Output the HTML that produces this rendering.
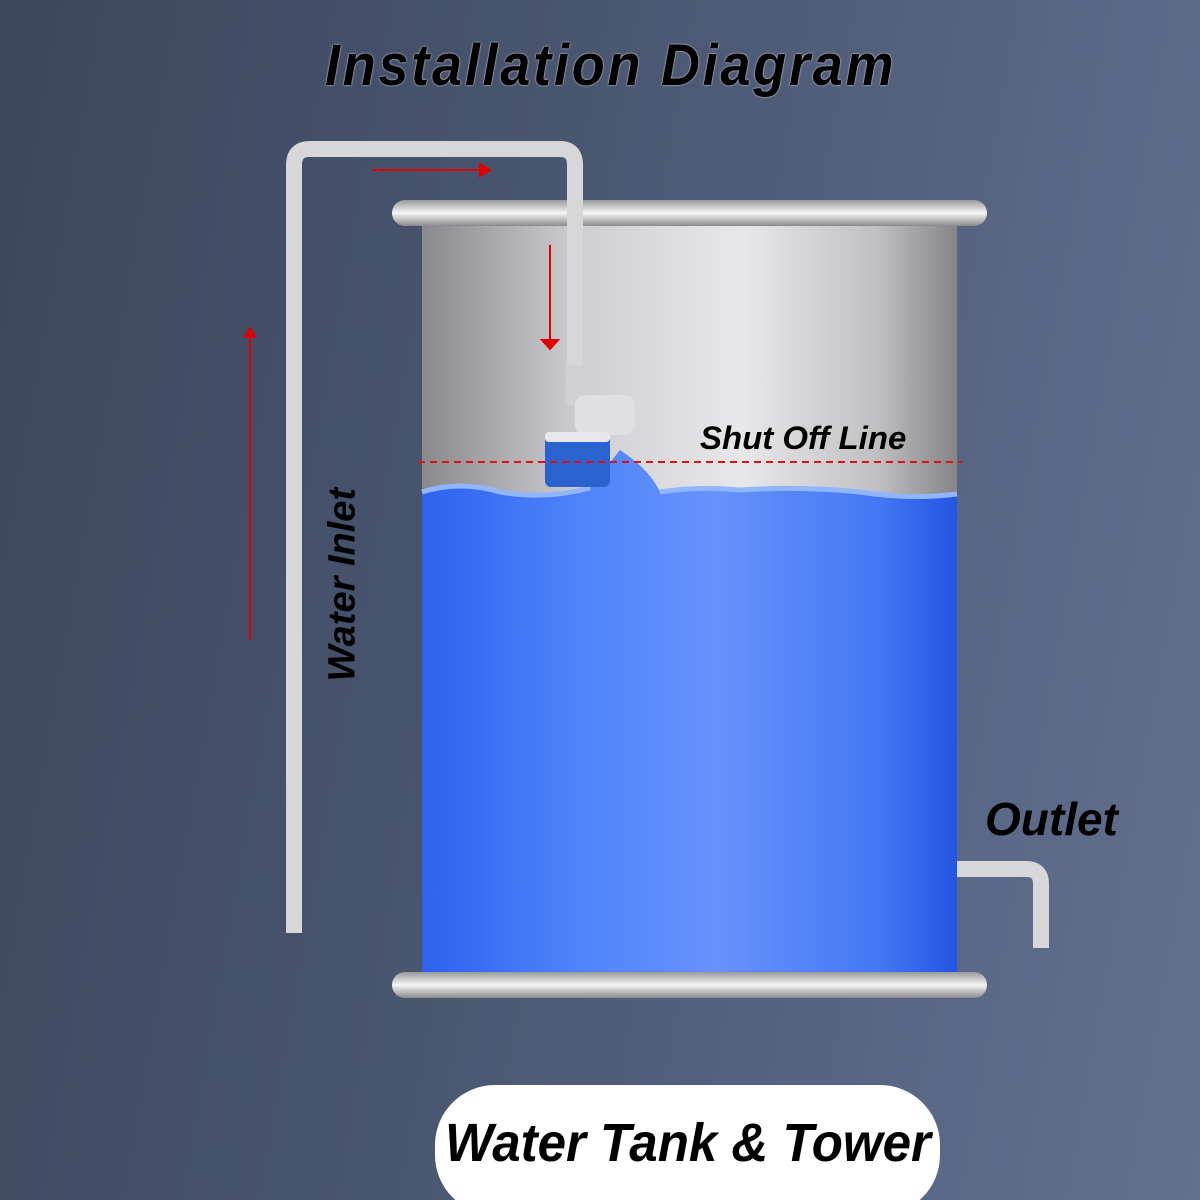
<!DOCTYPE html>
<html><head><style>
html,body{margin:0;padding:0}
body{width:1200px;height:1200px;overflow:hidden;position:relative;
background:linear-gradient(100deg,#3c475e 0%,#48556f 40%,#5a6887 80%,#63718e 100%);
font-family:"Liberation Sans",sans-serif}
.t{position:absolute;font-weight:bold;font-style:italic;color:#000;white-space:nowrap;transform-origin:left top}
</style></head><body>
<svg width="1200" height="1200" style="position:absolute;left:0;top:0">
<defs>
<linearGradient id="metal" x1="0" x2="1" y1="0" y2="0">
<stop offset="0" stop-color="#8a8a8c"/><stop offset="0.3" stop-color="#cfcfd1"/>
<stop offset="0.6" stop-color="#e8e8ea"/><stop offset="0.85" stop-color="#c0c0c2"/><stop offset="1" stop-color="#858587"/></linearGradient>
<linearGradient id="rim" x1="0" x2="0" y1="0" y2="1">
<stop offset="0" stop-color="#9a9a9c"/><stop offset="0.5" stop-color="#f4f4f4"/><stop offset="1" stop-color="#8a8a8c"/></linearGradient>
<linearGradient id="water" x1="0" x2="1" y1="0" y2="0">
<stop offset="0" stop-color="#2d62ee"/><stop offset="0.3" stop-color="#4f84fa"/>
<stop offset="0.55" stop-color="#6892fb"/><stop offset="0.85" stop-color="#4478f4"/><stop offset="1" stop-color="#2455e4"/></linearGradient>
</defs>
<rect x="422" y="222" width="535" height="752" fill="url(#metal)"/>
<path d="M422 492 Q460 480 500 492 Q545 500 590 488 L620 450 Q650 470 660 492 Q700 486 740 490 Q800 486 860 492 Q910 500 957 494 L957 974 L422 974 Z" fill="url(#water)"/>
<path d="M422 492 Q460 480 500 492 Q545 500 590 488 M660 492 Q700 486 740 490 Q800 486 860 492 Q910 500 957 494" fill="none" stroke="#8fb6ff" stroke-width="5"/>
<rect x="392" y="200" width="595" height="26" rx="13" fill="url(#rim)"/>
<rect x="392" y="972" width="595" height="26" rx="13" fill="url(#rim)"/>
<path d="M294 933 L294 165 Q294 149 310 149 L560 149 Q575 149 575 165 L575 370" fill="none" stroke="#d7d7d9" stroke-width="16"/>
<path d="M957 869 L1026 869 Q1041 869 1041 884 L1041 948" fill="none" stroke="#d7d7d9" stroke-width="16"/>
<rect x="566" y="365" width="20" height="40" fill="#d0d0d2"/>
<rect x="575" y="395" width="60" height="40" rx="10" fill="#e0e0e2"/>
<rect x="545" y="432" width="65" height="55" rx="6" fill="#2a62cf"/>
<rect x="545" y="432" width="65" height="10" rx="4" fill="#e8e8ea"/>
<line x1="418" y1="462" x2="962" y2="462" stroke="#e01010" stroke-width="2" stroke-dasharray="7,5"/>
<g stroke="#e00000" stroke-width="2" fill="#e00000">
<line x1="372" y1="170" x2="482" y2="170"/><path d="M490 170 L480 164 L480 176Z"/>
<line x1="550" y1="245" x2="550" y2="340"/><path d="M550 349 L542 340 L558 340Z"/>
<line x1="250" y1="640" x2="250" y2="336"/><path d="M250 328 L245 337 L255 337Z"/>
</g>
<rect x="435" y="1085" width="505" height="130" rx="60" fill="#fff"/>
</svg>
<div class="t" style="left:325px;top:32px;font-size:58px;letter-spacing:3px;transform:scaleX(0.93);text-shadow:0 0 2px #fff">Installation Diagram</div>
<div class="t" style="left:700px;top:420px;font-size:32px;transform:scaleX(1.03)">Shut Off Line</div>
<div class="t" style="left:985px;top:792px;font-size:46px">Outlet</div>
<div class="t" style="left:258px;top:575px;font-size:38px;transform:rotate(-90deg);transform-origin:center;width:170px;text-align:center">Water Inlet</div>
<div class="t" style="left:445px;top:1112px;font-size:54px;transform:scaleX(0.945)">Water Tank &amp; Tower</div>
</body></html>
